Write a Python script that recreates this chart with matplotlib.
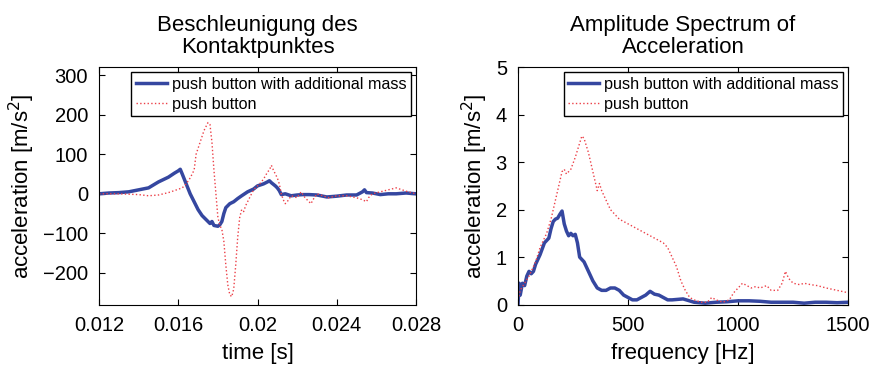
import numpy as np
import matplotlib
matplotlib.use("Agg")
import matplotlib.pyplot as plt

plt.rcParams['font.family'] = ['Liberation Sans', 'DejaVu Sans']

# time signal, push button with additional mass
t_mass = [0.0120, 0.0125, 0.0130, 0.0135, 0.0140, 0.0145, 0.0150, 0.0155, 0.0158, 0.0160,
          0.0161, 0.0162, 0.0164, 0.0166, 0.0168, 0.0170, 0.0172, 0.0174, 0.0176, 0.0177,
          0.0178, 0.0180, 0.0181, 0.0182, 0.0183, 0.0184, 0.0186, 0.0188, 0.0190, 0.0192,
          0.0195, 0.0198, 0.0200, 0.0203, 0.0205, 0.0206, 0.0207, 0.0209, 0.0210, 0.0211,
          0.0212, 0.0214, 0.0217, 0.0220, 0.0223, 0.0226, 0.0230, 0.0235, 0.0240, 0.0245,
          0.0250, 0.0253, 0.0254, 0.0255, 0.0258, 0.0262, 0.0266, 0.0270, 0.0275, 0.0280]
a_mass = [0, 2, 3, 5, 10, 15, 30, 42, 52, 58,
          62, 50, 25, 0, -20, -40, -55, -65, -75, -70,
          -80, -82, -78, -70, -50, -35, -25, -20, -12, -5,
          5, 12, 20, 25, 30, 33, 28, 20, 15, 8,
          -2, 0, -5, -3, -2, -2, -3, -8, -6, -3,
          -3, 5, 10, 3, 2, -2, 0, 0, 2, 0]

# time signal, push button
t_btn = [0.0120, 0.0130, 0.0140, 0.0145, 0.0150, 0.0155, 0.0158, 0.0162, 0.0164, 0.0166,
         0.0168, 0.0169, 0.0171, 0.0173, 0.0175, 0.0176, 0.0177, 0.0178, 0.0179, 0.0180,
         0.0181, 0.0182, 0.0183, 0.0184, 0.0185, 0.0186, 0.0187, 0.0188, 0.0189, 0.0190,
         0.0191, 0.0192, 0.0193, 0.0194, 0.0196, 0.0198, 0.0200, 0.0202, 0.0204, 0.0205,
         0.0206, 0.0207, 0.0208, 0.0209, 0.0210, 0.0211, 0.0212, 0.0213, 0.0214, 0.0215,
         0.0217, 0.0220, 0.0222, 0.0224, 0.0226, 0.0227, 0.0228, 0.0230, 0.0233, 0.0236,
         0.0240, 0.0245, 0.0250, 0.0253, 0.0255, 0.0256, 0.0258, 0.0262, 0.0266, 0.0270,
         0.0273, 0.0276, 0.0280]
a_btn = [0, 0, -2, -5, -3, 3, 8, 15, 25, 40,
         60, 100, 130, 160, 180, 175, 130, 60, 0, -60,
         -80, -90, -120, -180, -230, -255, -260, -240, -180, -110,
         -60, -40, -45, -30, -10, 10, 20, 30, 45, 55,
         60, 72, 60, 50, 40, 25, 0, -15, -25, -20,
         -5, -10, 5, -10, -20, -25, -15, 0, -5, -10,
         -5, -5, -10, -15, -20, -10, 0, 5, 10, 15,
         10, 5, 0]

# amplitude spectrum, push button with additional mass
f_mass = [0, 5, 10, 20, 30, 40, 50, 60, 70, 80, 100, 120, 130, 140, 150, 160, 170, 180, 190, 200,
          210, 220, 230, 240, 250, 260, 270, 280, 300, 320, 340, 360, 380, 400, 420, 440, 460, 480,
          500, 520, 540, 560, 580, 600, 620, 640, 660, 680, 700, 750, 800, 850, 900, 950, 1000,
          1050, 1100, 1150, 1200, 1250, 1300, 1350, 1400, 1450, 1500]
s_mass = [0.0, 0.45, 0.2, 0.45, 0.4, 0.6, 0.7, 0.65, 0.7, 0.85, 1.05, 1.3, 1.35, 1.4, 1.6, 1.75, 1.8, 1.82, 1.9, 1.97,
          1.7, 1.55, 1.45, 1.5, 1.45, 1.48, 1.3, 1.0, 0.9, 0.7, 0.5, 0.35, 0.3, 0.3, 0.35, 0.35, 0.3, 0.2,
          0.15, 0.1, 0.1, 0.15, 0.2, 0.28, 0.22, 0.2, 0.15, 0.1, 0.1, 0.12, 0.05, 0.03, 0.05, 0.06, 0.08,
          0.08, 0.07, 0.05, 0.05, 0.05, 0.03, 0.05, 0.05, 0.04, 0.05]

# amplitude spectrum, push button
f_btn = [0, 10, 30, 50, 80, 100, 130, 150, 170, 185, 200, 210, 220, 240, 260, 280, 290, 300, 320, 340,
         350, 360, 370, 380, 400, 420, 440, 460, 480, 500, 520, 540, 560, 580, 600, 620, 640, 660, 680, 700,
         720, 740, 760, 780, 800, 830, 860, 880, 900, 930, 960, 980, 1000, 1020, 1040, 1060, 1080, 1100,
         1130, 1150, 1180, 1200, 1215, 1230, 1250, 1280, 1300, 1330, 1360, 1400, 1450, 1500]
s_btn = [0.1, 0.3, 0.45, 0.6, 0.9, 1.2, 1.5, 1.8, 2.2, 2.5, 2.8, 2.85, 2.75, 2.85, 3.1, 3.4, 3.55, 3.5, 3.2, 2.8,
         2.6, 2.4, 2.55, 2.4, 2.2, 2.0, 1.9, 1.8, 1.75, 1.7, 1.65, 1.6, 1.55, 1.5, 1.45, 1.4, 1.35, 1.3, 1.2, 1.0,
         0.8, 0.5, 0.3, 0.15, 0.1, 0.05, 0.05, 0.15, 0.1, 0.05, 0.1, 0.25, 0.35, 0.45, 0.4, 0.35, 0.38, 0.35,
         0.4, 0.3, 0.3, 0.45, 0.7, 0.55, 0.45, 0.42, 0.45, 0.42, 0.4, 0.35, 0.3, 0.25]

lbl_mass = "push button with additional mass"
lbl_btn = "push button"
blue = "#3547a0"
red = "#ec4048"

fig = plt.figure(figsize=(8.78, 3.67), dpi=100)
ax1 = fig.add_axes([0.1128, 0.170, 0.361, 0.647])
ax2 = fig.add_axes([0.590, 0.170, 0.376, 0.647])

ax1.plot(t_mass, a_mass, color=blue, lw=2.5, label=lbl_mass)
ax1.plot(t_btn, a_btn, color=red, lw=1.0, ls=':', label=lbl_btn)
ax1.set_xlim(0.012, 0.028)
ax1.set_ylim(-280, 320)
ax1.set_xticks([0.012, 0.016, 0.02, 0.024, 0.028])
ax1.set_xticklabels(["0.012", "0.016", "0.02", "0.024", "0.028"])
ax1.set_yticks([-200, -100, 0, 100, 200, 300])
ax1.set_xlabel("time [s]", fontsize=16, labelpad=6)
ax1.set_ylabel("acceleration [m/s$^2$]", fontsize=16, labelpad=4)
ax1.set_title("Beschleunigung des\nKontaktpunktes", fontsize=16, linespacing=1.05, pad=10)

ax2.plot(f_mass, s_mass, color=blue, lw=2.5, label=lbl_mass)
ax2.plot(f_btn, s_btn, color=red, lw=1.0, ls=':', label=lbl_btn)
ax2.set_xlim(0, 1500)
ax2.set_ylim(0, 5)
ax2.set_xticks([0, 500, 1000, 1500])
ax2.set_yticks([0, 1, 2, 3, 4, 5])
ax2.set_xlabel("frequency [Hz]", fontsize=16, labelpad=6)
ax2.set_ylabel("acceleration [m/s$^2$]", fontsize=16, labelpad=4)
ax2.set_title("Amplitude Spectrum of\nAcceleration", fontsize=16, linespacing=1.05, pad=10)

for ax in (ax1, ax2):
    ax.tick_params(direction='in', top=True, right=True, labelsize=14.5, length=4, pad=8)
    leg = ax.legend(loc='upper right', fontsize=11.6, fancybox=False, framealpha=1,
                    edgecolor='black', borderpad=0.3, labelspacing=0.3, handlelength=1.9,
                    handletextpad=0.3, borderaxespad=0.3)
    leg.get_frame().set_linewidth(1.0)

fig.savefig("out.png", dpi=100)
